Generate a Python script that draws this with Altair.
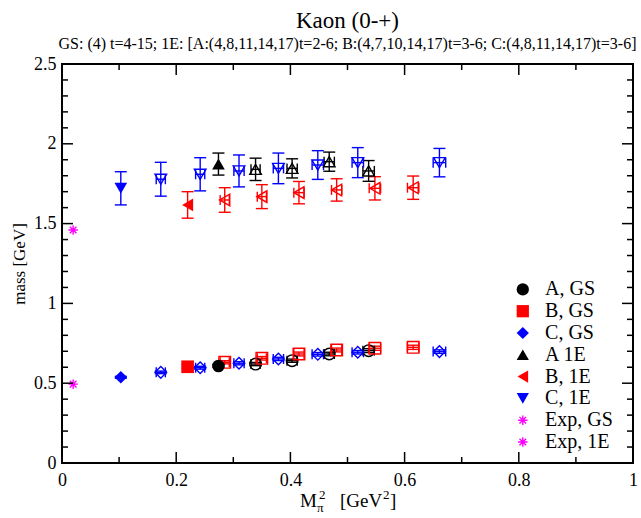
import altair as alt
import pandas as pd

TITLE = "Kaon (0-+)"
SUBTITLE = "GS: (4) t=4-15;  1E: [A:(4,8,11,14,17)t=2-6; B:(4,7,10,14,17)t=3-6; C:(4,8,11,14,17)t=3-6]"
Y_TITLE = "mass [GeV]"

# ---- data (first point of each set is the filled one) ----
A_x = [0.274, 0.339, 0.403, 0.468, 0.537]
A_xerr = [0.0, 0.008, 0.009, 0.009, 0.010]
A_gs = [0.608, 0.620, 0.641, 0.683, 0.704]
A_gs_err = [0.008, 0.010, 0.010, 0.011, 0.012]
A_1e = [1.873, 1.840, 1.846, 1.888, 1.830]
A_1e_err = [0.069, 0.070, 0.060, 0.060, 0.065]

B_x = [0.220, 0.285, 0.350, 0.415, 0.481, 0.548, 0.615]
B_xerr = [0.0, 0.008, 0.008, 0.009, 0.009, 0.010, 0.010]
B_gs = [0.603, 0.631, 0.656, 0.683, 0.708, 0.719, 0.725]
B_gs_err = [0.008, 0.010, 0.011, 0.012, 0.012, 0.013, 0.013]
B_1e = [1.617, 1.648, 1.669, 1.694, 1.711, 1.721, 1.725]
B_1e_err = [0.083, 0.077, 0.075, 0.070, 0.070, 0.073, 0.073]

C_x = [0.103, 0.173, 0.242, 0.310, 0.379, 0.448, 0.518, 0.661]
C_xerr = [0.0, 0.008, 0.008, 0.009, 0.009, 0.010, 0.010, 0.011]
C_gs = [0.537, 0.568, 0.597, 0.625, 0.652, 0.681, 0.694, 0.698]
C_gs_err = [0.006, 0.008, 0.009, 0.010, 0.010, 0.011, 0.011, 0.011]
C_1e = [1.721, 1.778, 1.809, 1.830, 1.846, 1.867, 1.882, 1.882]
C_1e_err = [0.104, 0.106, 0.104, 0.100, 0.096, 0.090, 0.094, 0.089]

EXP_x = [0.0195, 0.0195]
EXP_y = [0.494, 1.46]

LEGEND_LABELS = ["A, GS", "B, GS", "C, GS", "A 1E", "B, 1E", "C, 1E", "Exp, GS", "Exp, 1E"]

X_MAJOR = [0, 0.2, 0.4, 0.6, 0.8, 1.0]
X_MINOR = [0.1, 0.3, 0.5, 0.7, 0.9]
Y_MAJOR = [0, 0.5, 1.0, 1.5, 2.0, 2.5]
Y_MINOR = [0.1, 0.2, 0.3, 0.4, 0.6, 0.7, 0.8, 0.9, 1.1, 1.2, 1.3, 1.4,
           1.6, 1.7, 1.8, 1.9, 2.1, 2.2, 2.3, 2.4]

# ---- styles ----
FONT = "Liberation Serif"
W, H = 571, 399
BLACK, RED, BLUE, MAGENTA = "#000000", "#ff0000", "#0000ff", "#ff00ff"
STAR = "M0,-1L0,1M-1,0L1,0M-0.7,-0.7L0.7,0.7M-0.7,0.7L0.7,-0.7"

series = [
    (A_x, A_xerr, A_gs, A_gs_err, "circle", A_1e, A_1e_err, "triangle-up", BLACK),
    (B_x, B_xerr, B_gs, B_gs_err, "square", B_1e, B_1e_err, "triangle-left", RED),
    (C_x, C_xerr, C_gs, C_gs_err, "diamond", C_1e, C_1e_err, "triangle-down", BLUE),
]

rows = []
for xs_, xe, gs, gse, sh_gs, e1, e1e, sh_1e, col in series:
    for i, xv in enumerate(xs_):
        for yv, ye, sh in ((gs[i], gse[i], sh_gs), (e1[i], e1e[i], sh_1e)):
            rows.append(dict(x=xv, xlo=xv - xe[i], xhi=xv + xe[i], y=yv,
                             ylo=yv - ye, yhi=yv + ye, shape=sh, color=col,
                             filled=(i == 0)))
df = pd.DataFrame(rows)
df_open = df[~df["filled"]]
df_fill = df[df["filled"]]

exp_df = pd.DataFrame({"x": EXP_x, "y": EXP_y})

leg_shapes = ["circle", "square", "diamond", "triangle-up", "triangle-left",
              "triangle-down", STAR, STAR]
leg_colors = [BLACK, RED, BLUE, BLACK, RED, BLUE, MAGENTA, MAGENTA]
LEG_Y0 = (463 - 289.4) / 159.6
LEG_DY = 21.8 / 159.6
leg_df = pd.DataFrame({
    "label": LEGEND_LABELS,
    "shape": leg_shapes,
    "color": leg_colors,
    "y": [LEG_Y0 - i * LEG_DY for i in range(len(LEGEND_LABELS))],
})
leg_df["xs"] = 0.807
leg_df["xt"] = 0.846

xscale = alt.Scale(domain=[0, 1], nice=False, zero=False)
yscale = alt.Scale(domain=[0, 2.5], nice=False, zero=False)
xaxis = alt.Axis(values=X_MAJOR, format="~g", ticks=False, domain=False, grid=False,
                 labelFont=FONT, labelFontSize=18, labelColor="black", labelPadding=8,
                 labelFlush=False, labelOverlap=False, title=None)
yaxis = alt.Axis(values=Y_MAJOR, format="~g", ticks=False, domain=False, grid=False,
                 labelFont=FONT, labelFontSize=18, labelColor="black", labelPadding=6,
                 labelFlush=False, labelOverlap=False, title=Y_TITLE,
                 titleFont=FONT, titleFontSize=17, titleFontWeight="normal",
                 titleColor="black", titlePadding=5)


def X(f):
    return alt.X(f, type="quantitative", scale=xscale, axis=xaxis)


def Y(f):
    return alt.Y(f, type="quantitative", scale=yscale, axis=yaxis)


col = alt.Color("color:N", scale=None)

ebar = alt.Chart(df).mark_rule(strokeWidth=1.4).encode(x=X("x"), y=Y("ylo"), y2="yhi", color=col)
cap_lo = alt.Chart(df).mark_rule(strokeWidth=1.4, xOffset=-6, x2Offset=6).encode(
    x=X("x"), x2="x", y=Y("ylo"), color=col)
cap_hi = alt.Chart(df).mark_rule(strokeWidth=1.4, xOffset=-6, x2Offset=6).encode(
    x=X("x"), x2="x", y=Y("yhi"), color=col)
xbar = alt.Chart(df_open).mark_rule(strokeWidth=1.4).encode(x=X("xlo"), x2="xhi", y=Y("y"), color=col)
xcap_lo = alt.Chart(df_open).mark_rule(strokeWidth=1.4, yOffset=-5, y2Offset=5).encode(
    x=X("xlo"), y=Y("y"), y2="y", color=col)
xcap_hi = alt.Chart(df_open).mark_rule(strokeWidth=1.4, yOffset=-5, y2Offset=5).encode(
    x=X("xhi"), y=Y("y"), y2="y", color=col)

open_pts = alt.Chart(df_open).mark_point(filled=False, size=135, strokeWidth=1.4, opacity=1).encode(
    x=X("x"), y=Y("y"), shape=alt.Shape("shape:N", scale=None), color=col)
fill_pts = alt.Chart(df_fill).mark_point(filled=True, size=160, opacity=1).encode(
    x=X("x"), y=Y("y"), shape=alt.Shape("shape:N", scale=None), color=col)
exp_pts = alt.Chart(exp_df).mark_point(filled=False, shape=STAR, size=90, strokeWidth=1.4,
                                       color=MAGENTA, opacity=1).encode(x=X("x"), y=Y("y"))

leg_sym_fill = alt.Chart(leg_df.iloc[:6]).mark_point(filled=True, size=150, opacity=1).encode(
    x=X("xs"), y=Y("y"), shape=alt.Shape("shape:N", scale=None), color=col)
leg_sym_star = alt.Chart(leg_df.iloc[6:]).mark_point(filled=False, shape=STAR, size=90,
                                                     strokeWidth=1.4, color=MAGENTA, opacity=1).encode(
    x=X("xs"), y=Y("y"))
leg_txt = alt.Chart(leg_df).mark_text(align="left", baseline="middle", font=FONT, fontSize=20,
                                      color="black").encode(x=X("xt"), y=Y("y"), text="label:N")

# ---- inward ticks on all four sides ----
xmaj = pd.DataFrame({"v": X_MAJOR})
xmin = pd.DataFrame({"v": X_MINOR})
ymaj = pd.DataFrame({"v": Y_MAJOR})
ymin = pd.DataFrame({"v": Y_MINOR})
MAJ, MIN = 11, 6
tick_layers = []
for d, L in ((xmaj, MAJ), (xmin, MIN)):
    tick_layers.append(alt.Chart(d).mark_rule(color="black", strokeWidth=1.5).encode(
        x=X("v"), y=alt.value(H), y2=alt.value(H - L)))
    tick_layers.append(alt.Chart(d).mark_rule(color="black", strokeWidth=1.5).encode(
        x=X("v"), y=alt.value(0), y2=alt.value(L)))
for d, L in ((ymaj, MAJ), (ymin, MIN)):
    tick_layers.append(alt.Chart(d).mark_rule(color="black", strokeWidth=1.5).encode(
        y=Y("v"), x=alt.value(0), x2=alt.value(L)))
    tick_layers.append(alt.Chart(d).mark_rule(color="black", strokeWidth=1.5).encode(
        y=Y("v"), x=alt.value(W), x2=alt.value(W - L)))

# ---- x-axis title: M_pi^2 [GeV^2] ----
one = pd.DataFrame({"a": [0]})
XT0 = 300 - 62
XT_BASE = H + 44


def piece(txt, dx, dy, size):
    return alt.Chart(one).mark_text(text=txt, align="left", baseline="alphabetic", font=FONT,
                                    fontSize=size, color="black").encode(
        x=alt.value(XT0 + dx), y=alt.value(XT_BASE + dy))


xtitle = [
    piece("M", 0, 0, 19),
    piece("π", 17, 5, 13),
    piece("2", 19, -8, 13),
    piece("[GeV", 40, 0, 19),
    piece("2", 83, -8, 13),
    piece("]", 90, 0, 19),
]

chart = alt.layer(
    ebar, cap_lo, cap_hi, xbar, xcap_lo, xcap_hi, open_pts, fill_pts, exp_pts,
    leg_sym_fill, leg_sym_star, leg_txt, *tick_layers, *xtitle
).properties(
    width=W, height=H,
    padding={"left": 62, "top": 64, "right": 8, "bottom": 55},
    autosize=alt.AutoSizeParams(type="none"),
    title=alt.TitleParams(text=TITLE, subtitle=SUBTITLE, font=FONT, fontSize=23,
                          fontWeight="normal", color="black", subtitleFont=FONT,
                          subtitleFontSize=16, subtitleColor="black", anchor="middle",
                          offset=3, subtitlePadding=3),
).configure_view(stroke="black", strokeWidth=2).configure_title(
    font=FONT, subtitleFont=FONT, fontWeight="normal")

chart.save("out.html", embed_options={"renderer": "svg", "actions": False})
